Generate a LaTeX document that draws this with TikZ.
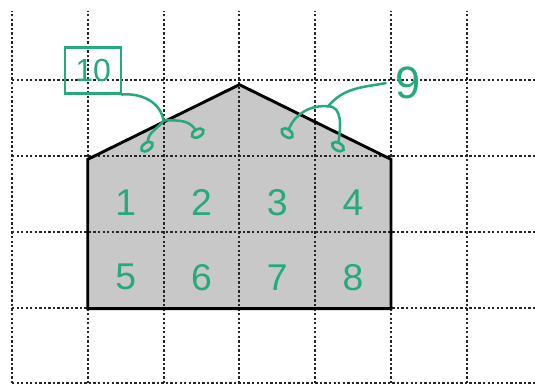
\documentclass[tikz,border=0pt]{standalone}
\usepackage{fontspec}
\setmainfont{Liberation Sans}
\usepackage{xcolor}
\usepackage{tikz}
\usetikzlibrary{positioning,shapes.geometric}

\definecolor{pengreen}{RGB}{38,170,122}
\definecolor{roofgray}{RGB}{200,200,200}

\tikzset{
    gridline/.style={black!85, line width=0.75pt, dash pattern=on 0.9pt off 0.8pt},
    outline/.style={black, line width=1.1pt, line join=miter},
    digit/.style={pengreen, font=\fontsize{14}{14}\selectfont},
    penline/.style={pengreen, line width=0.95pt, line cap=round},
    penloop/.style={draw=pengreen, ellipse, line width=1pt, minimum width=0.17cm,
        minimum height=0.1cm, inner sep=0pt}
}

\begin{document}
\begin{tikzpicture}[x=1cm, y=0.985cm]
    \useasboundingbox (-0.158,-0.04) rectangle (6.90,5.134);

    % House shape (filled first, grid shows through)
    \fill[roofgray] (1,1) -- (5,1) -- (5,3) -- (3,4) -- (1,3) -- cycle;

    % Dotted squared paper
    \draw[gridline] (0,0) grid (6.90,4.99);

    % Outline of the house
    \draw[outline] (1,1) -- (5,1) -- (5,3) -- (3,4) -- (1,3) -- cycle;

    % Whole squares
    \foreach \n in {1,...,4}
        \node[digit] (c\n) at (\n+0.5,2.42) {\n};
    \foreach \n in {5,...,8}
        \node[digit] (c\n) at (\n-3.5,1.42) {\n};

    % Half squares in the roof
    \node[penloop, rotate=35] (m1) at (1.78,3.17) {};
    \node[penloop, rotate=30] (m2) at (2.45,3.35) {};
    \node[penloop, rotate=-35] (m3) at (3.63,3.35) {};
    \node[penloop, rotate=-30] (m4) at (4.30,3.17) {};

    % Labels for the roof
    \node[draw=pengreen, line width=1pt, minimum width=0.74cm, minimum height=0.6cm,
        inner sep=1pt, digit, font=\fontsize{12}{12}\selectfont] (box10) at (1.07,4.19) {10};
    \node[digit, font=\fontsize{17}{17}\selectfont] (lbl9) at (5.22,4.02) {9};

    \coordinate (j10) at (2.0,3.52);
    \coordinate (j9) at (4.17,3.71);

    % Braces joining halves
    \draw[penline] (box10.-40) to[out=5,in=100] (j10);
    \draw[penline] (j10) to[out=235,in=70] (m1);
    \draw[penline] (j10) to[out=0,in=115] (m2);
    \draw[penline] (lbl9.west) to[out=190,in=50] (j9);
    \draw[penline] (j9) to[out=175,in=75] (m3);
    \draw[penline] (j9) to[out=0,in=90] (m4);
\end{tikzpicture}
\end{document}
